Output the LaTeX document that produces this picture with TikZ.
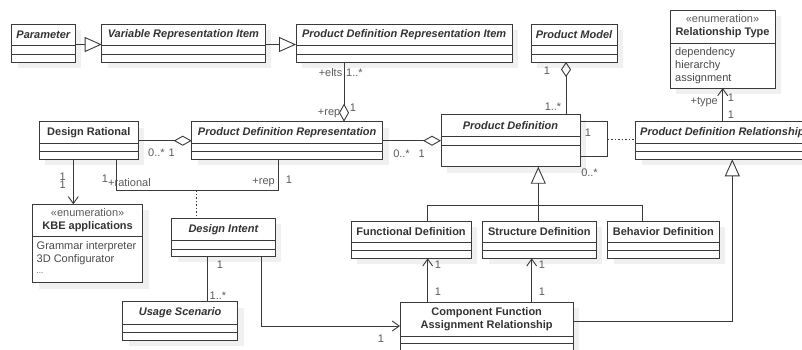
\documentclass[tikz,border=0pt]{standalone}
\usepackage{fontspec}
\setmainfont{Liberation Sans}
\usetikzlibrary{arrows.meta,calc}
\definecolor{linec}{HTML}{3A3A3A}
\definecolor{titlec}{HTML}{333333}
\definecolor{labc}{HTML}{5A5A5A}
\definecolor{attrc}{HTML}{4A4A4A}
\definecolor{shadc}{HTML}{F0F0F0}
\tikzset{
 clsbox/.style={draw=linec, line width=1pt, fill=white, inner sep=0pt, outer sep=0pt},
 clsline/.style={draw=linec, line width=1pt},
 ttl/.style={font=\fontsize{11}{13}\selectfont\bfseries, text=titlec, inner sep=0pt, align=center},
 lab/.style={font=\fontsize{11}{13}\selectfont, text=labc, inner sep=0pt},
 attr/.style={font=\fontsize{11}{13}\selectfont, text=attrc, inner sep=0pt, anchor=west},
 conn/.style={draw=linec, line width=0.9pt},
 gen/.style={conn, -{Triangle[open, length=17pt, width=15pt]}},
 aggend/.style={conn, -{Diamond[open, length=18pt, width=10pt]}},
 aggstart/.style={conn, {Diamond[open, length=15pt, width=10pt]}-},
 nav/.style={conn, -{Straight Barb[length=7pt, width=10pt]}},
 dotl/.style={conn, dash pattern=on 1.5pt off 2pt},
 shadowfill/.style={fill=shadc},
}
% name, x1, y1, x2, y2, sep1, sep2, title
\newcommand\umlcls[8]{%
  \fill[shadowfill] ({#2+6},{#3+6}) rectangle ({#4+6},{#5+6});
  \node[clsbox, minimum width={#4pt-#2pt}, minimum height={#5pt-#3pt}] (#1) at ({(#2+#4)/2},{(#3+#5)/2}) {};
  \draw[clsline] (#2,{#3+#6}) -- (#4,{#3+#6});
  \ifx&#7&\else\draw[clsline] (#2,{#3+#7}) -- (#4,{#3+#7});\fi
  \node[ttl] (#1-t) at ({(#2+#4)/2},{#3+#6/2}) {#8};
}
\begin{document}
\begin{tikzpicture}[x=1pt,y=-1pt]
\useasboundingbox (0,0) rectangle (802,349);
\clip (0,0) rectangle (802,349);

% classes
\umlcls{param}{11.7}{24}{75}{62}{21.7}{30}{\itshape Parameter}
\umlcls{vri}{101.7}{24}{265}{62}{21.7}{30}{\itshape Variable Representation Item}
\umlcls{pdri}{296}{24}{512.3}{62}{21.7}{30}{\itshape Product Definition Representation Item}
\umlcls{pm}{531}{24}{617}{62}{21.7}{30}{\itshape Product Model}
\umlcls{rt}{670}{10}{775}{88}{33}{}{{\mdseries\color{labc}«enumeration»}\\Relationship Type}
\umlcls{dr}{39.3}{121.7}{138.3}{159.3}{21.6}{29.8}{Design Rational}
\umlcls{pdr}{191.7}{121.7}{382.7}{159.3}{21.6}{29.8}{\itshape Product Definition Representation}
\umlcls{pd}{441}{114.3}{580}{166.7}{22.4}{30.7}{\itshape Product Definition}
\umlcls{pdrel}{635.7}{121.7}{809}{159.3}{21.6}{30}{\itshape Product Definition Relationship}
\umlcls{kbe}{32.5}{204.3}{142.7}{282.7}{32.4}{}{{\mdseries\color{labc}«enumeration»}\\KBE applications}
\umlcls{di}{171.5}{218.3}{275.2}{256}{22.4}{30.7}{\itshape Design Intent}
\umlcls{us}{122.7}{301.7}{237.7}{340}{22.3}{31}{\itshape Usage Scenario}
\umlcls{fd}{351}{221}{471}{258.3}{21.3}{29.7}{Functional Definition}
\umlcls{sd}{482.7}{221}{596}{258.3}{21.3}{29.7}{Structure Definition}
\umlcls{bd}{607.7}{221}{719}{258.3}{21.3}{29.7}{Behavior Definition}
\umlcls{cfar}{400}{302.3}{573.3}{365}{33.7}{41}{Component Function\\Assignment Relationship}

% enumeration literals
\node[attr] (rt1) at (675,53) {dependency};
\node[attr] (rt2) at (675,66) {hierarchy};
\node[attr] (rt3) at (675,79) {assignment};
\node[attr] (kb1) at (36.5,246.7) {Grammar interpreter};
\node[attr] (kb2) at (36.5,260) {3D Configurator};
\node[attr, font=\fontsize{8}{10}\selectfont] (kb3) at (36.5,273) {...};

% generalizations
\draw[gen] ([yshift=-1.5pt]param.east) -- ([yshift=-1.5pt]vri.west);
\draw[gen] ([yshift=-1.5pt]vri.east) -- ([yshift=-1.5pt]pdri.west);
\draw[gen] (sd.north -| 538.3,0) -- (pd.south -| 538.3,0);
\draw[conn] (fd.north -| 427.7,0) -- (427.7,205) -- (642.3,205) -- (bd.north -| 642.3,0);
\draw[gen] (cfar.east |- 0,321.7) -| (pdrel.south -| 732.3,0);

% aggregations
\draw[aggend] (pdri.south -| 344,0) -- (pdr.north -| 344,0);
\draw[aggstart] (pm.south -| 566,0) -- (pd.north -| 566,0);
\draw[aggend] (dr.east |- 0,140.7) -- (pdr.west |- 0,140.7);
\draw[aggend] (pdr.east |- 0,140.7) -- (pd.west |- 0,140.7);

% self association of Product Definition + association class
\draw[conn] (pd.east |- 0,121) -- (607.7,121) -- (607.7,156) -- (pd.east |- 0,156);
\coordinate (loopc) at (607.7,139);
\draw[dotl] (loopc) -- (pdrel.west |- loopc);

% Design Rational / Product Definition Representation association + Design Intent
\draw[conn] (dr.south -| 116,0) -- (116,190) -- (278.3,190) -- (pdr.south -| 278.3,0);
\coordinate (assoc) at (196.7,190);
\draw[dotl] (assoc) -- (di.north -| assoc);

% navigable associations
\draw[nav] (pdrel.north -| 722.7,0) -- (rt.south -| 722.7,0);
\draw[nav] (dr.south -| 73.3,0) -- (kbe.north -| 73.3,0);
\draw[conn] (di.south -| 207.3,0) -- (us.north -| 207.3,0);
\draw[nav] (di.south -| 261,0) |- (cfar.west |- 0,326);
\draw[nav] (cfar.north -| 427.7,0) -- (fd.south -| 427.7,0);
\draw[nav] (cfar.north -| 531.7,0) -- (sd.south -| 531.7,0);

% labels
\node[lab, anchor=east] (m1) at (342.5,73) {+elts};
\node[lab, anchor=west] (m2) at (346,73) {1..*};
\node[lab, anchor=east] (m3) at (340.5,113) {+rep};
\node[lab] (m4) at (353,108) {1};
\node[lab] (m5) at (547,71) {1};
\node[lab] (m6) at (553,107) {1..*};
\node[lab, anchor=east] (m7) at (718,102) {+type};
\node[lab] (m8) at (731,98) {1};
\node[lab] (m9) at (731,115) {1};
\node[lab] (m10) at (156.5,152.7) {0..*};
\node[lab] (m11) at (171.7,152.7) {1};
\node[lab] (m12) at (401.5,153.3) {0..*};
\node[lab] (m13) at (421.7,153.3) {1};
\node[lab] (m14) at (588,132.7) {1};
\node[lab] (m15) at (589.5,172.3) {0..*};
\node[lab] (m16) at (62.7,177) {1};
\node[lab] (m17) at (62.7,185) {1};
\node[lab] (m18) at (105,179) {1};
\node[lab, anchor=west] (m19) at (108,182.7) {+rational};
\node[lab, anchor=east] (m20) at (275,182.7) {+rep};
\node[lab] (m21) at (289,180) {1};
\node[lab] (m22) at (220,265) {1};
\node[lab] (m23) at (218,296) {1..*};
\node[lab] (m24) at (381,338.3) {1};
\node[lab] (m25) at (438,265) {1};
\node[lab] (m26) at (438,291.7) {1};
\node[lab] (m27) at (542,265) {1};
\node[lab] (m28) at (542,291.7) {1};
\end{tikzpicture}
\end{document}
